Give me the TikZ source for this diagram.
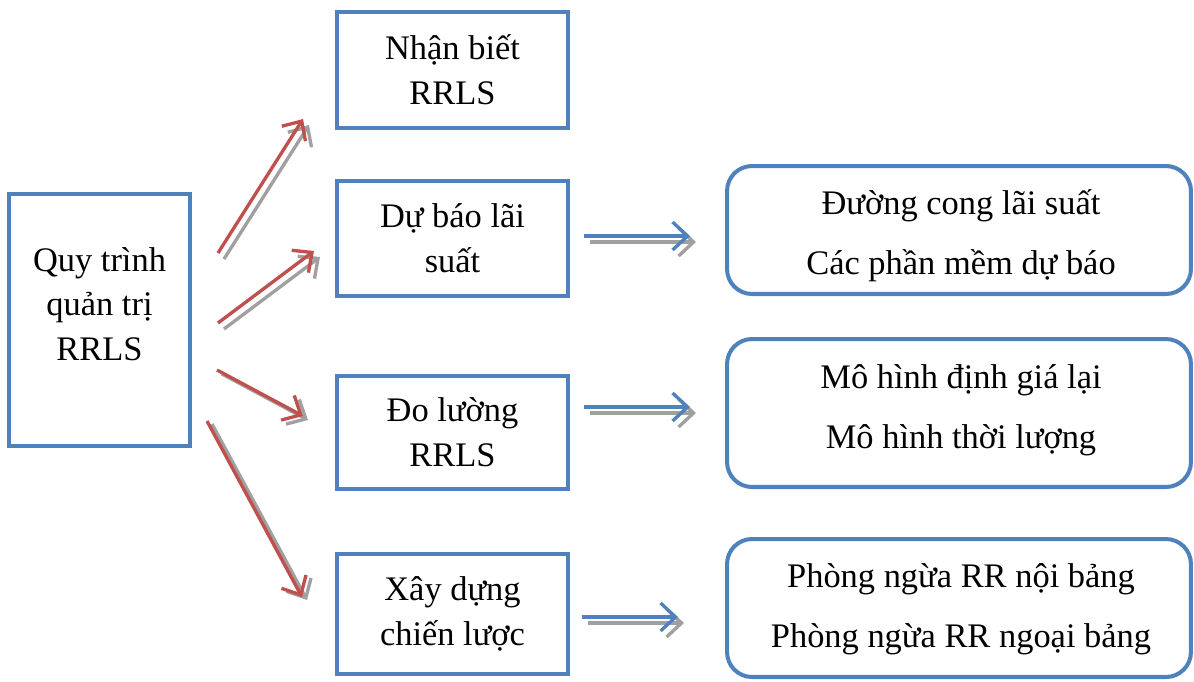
\documentclass[tikz,border=0pt]{standalone}
\usepackage{fontspec}
\setmainfont{Liberation Serif}
\usetikzlibrary{arrows.meta}
\definecolor{bbox}{HTML}{4F81BD}
\definecolor{rarr}{HTML}{C0504D}
\definecolor{sh}{HTML}{A0A0A0}
\begin{document}
\begin{tikzpicture}[x=0.02cm,y=-0.02cm,
  box/.style={draw=bbox,line width=2.3pt,rectangle,inner sep=0pt,align=center,
    font=\fontsize{19.6}{25.5}\selectfont},
  rbox/.style={box,rounded corners=0.5cm,font=\fontsize{19.6}{34}\selectfont},
  txt/.style={align=center,inner sep=0pt,font=\fontsize{19.6}{25.5}\selectfont},
  tip/.style={-{Straight Barb[length=0.3cm,width=0.56cm,line width=1.9pt]}},
  redarr/.style={tip,draw=rarr,line width=1.9pt},
  bluearr/.style={tip,draw=bbox,line width=1.9pt},
  shadarr/.style={tip,draw=sh,line width=1.9pt}]
\useasboundingbox (0,0) rectangle (1194,681);
% boxes
\node[box,minimum width=3.62cm,minimum height=5.04cm] (q) at (99.5,320) {};
\node[txt] (qt) at (99.5,304) {Quy trình\\quản trị\\RRLS};
\node[box,minimum width=4.62cm,minimum height=2.32cm] (nb) at (452.5,70) {Nhận biết\\RRLS};
\node[box,minimum width=4.62cm,minimum height=2.30cm] (db) at (452.5,238.5) {Dự báo lãi\\suất};
\node[box,minimum width=4.62cm,minimum height=2.26cm] (dl) at (452.5,432.5) {Đo lường\\RRLS};
\node[box,minimum width=4.62cm,minimum height=2.40cm] (xd) at (452.5,614) {Xây dựng\\chiến lược};
\node[rbox,minimum width=9.28cm,minimum height=2.56cm] (r1) at (959,230) {};
\node[txt,font=\fontsize{19.6}{34}\selectfont] (r1t) at (961,236) {Đường cong lãi suất\\Các phần mềm dự báo};
\node[rbox,minimum width=9.28cm,minimum height=2.96cm] (r2) at (959,413) {};
\node[txt,font=\fontsize{19.6}{34}\selectfont] (r2t) at (961,410) {Mô hình định giá lại\\Mô hình thời lượng};
\node[rbox,minimum width=9.28cm,minimum height=2.76cm] (r3) at (959,608) {};
\node[txt,font=\fontsize{19.6}{34}\selectfont] (r3t) at (961,609) {Phòng ngừa RR nội bảng\\Phòng ngừa RR ngoại bảng};
% arrow end points
\coordinate (a1s) at (218,253); \coordinate (a1e) at (303,119);
\coordinate (a2s) at (218,323); \coordinate (a2e) at (314,251);
\coordinate (a3s) at (217,370); \coordinate (a3e) at (303,416);
\coordinate (a4s) at (207,421); \coordinate (a4e) at (302,597);
\coordinate (b1s) at (584,236); \coordinate (b1e) at (690,236);
\coordinate (b2s) at (584,407); \coordinate (b2e) at (690,407);
\coordinate (b3s) at (582,617); \coordinate (b3e) at (678,617);
% shadows
\draw[shadarr] ([shift={(6,6)}]a1s) -- ([shift={(6,6)}]a1e);
\draw[shadarr] ([shift={(6,6)}]a2s) -- ([shift={(6,6)}]a2e);
\draw[shadarr] ([shift={(5,4)}]a3s) -- ([shift={(5,4)}]a3e);
\draw[shadarr] ([shift={(5,3)}]a4s) -- ([shift={(5,3)}]a4e);
\draw[shadarr] ([shift={(6,6)}]b1s) -- ([shift={(6,6)}]b1e);
\draw[shadarr] ([shift={(6,6)}]b2s) -- ([shift={(6,6)}]b2e);
\draw[shadarr] ([shift={(6,6)}]b3s) -- ([shift={(6,6)}]b3e);
% arrows
\draw[redarr] (a1s) -- (a1e);
\draw[redarr] (a2s) -- (a2e);
\draw[redarr] (a3s) -- (a3e);
\draw[redarr] (a4s) -- (a4e);
\draw[bluearr] (b1s) -- (b1e);
\draw[bluearr] (b2s) -- (b2e);
\draw[bluearr] (b3s) -- (b3e);
\end{tikzpicture}
\end{document}
